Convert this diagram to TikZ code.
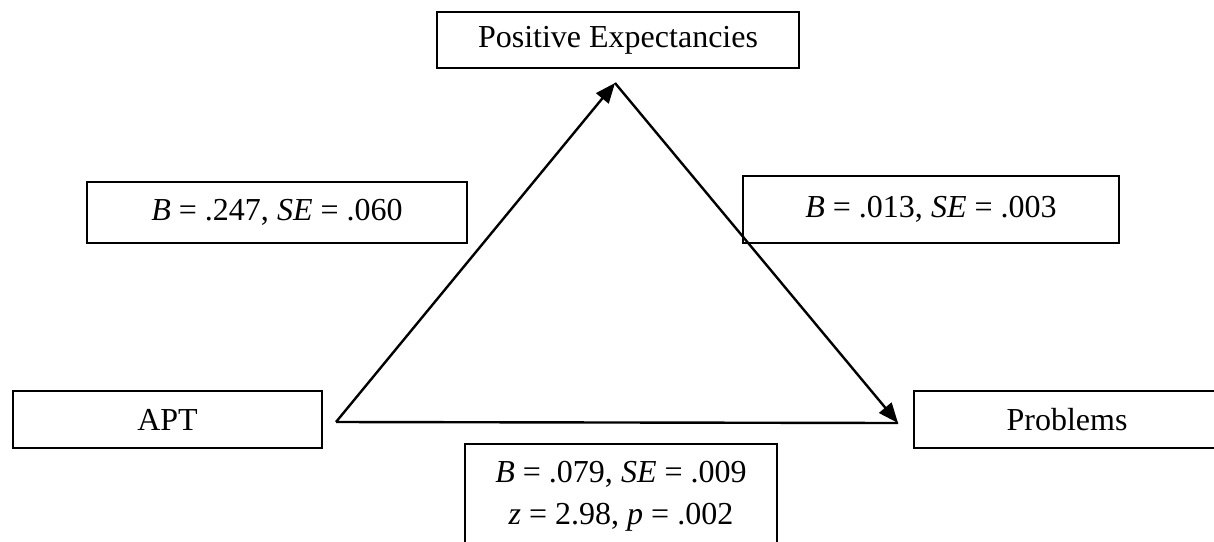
\documentclass[tikz,border=0pt]{standalone}
\usepackage{fontspec}
\setmainfont{Liberation Serif}
\usetikzlibrary{arrows.meta,positioning}
\tikzset{
  varbox/.style={rectangle, draw=black, line width=1pt, align=center,
                 inner sep=0pt, font=\fontsize{16}{21}\selectfont},
  coefbox/.style={varbox},
  ar/.style={-{Triangle[length=10pt,width=8pt]}, line width=1.2pt},
  ln/.style={line width=1.2pt},
}
\begin{document}
\begin{tikzpicture}[x=0.5pt,y=-0.5pt]
\useasboundingbox (0,0) rectangle (1214,541);
% variables
\node[varbox, minimum width=181pt, minimum height=28pt] (pe) at (618,40) {Positive Expectancies};
\node[varbox, minimum width=154.5pt, minimum height=28.5pt] (apt) at (167.5,419.5) {APT};
\node[varbox, minimum width=153pt, minimum height=28.5pt] (prob) at (1067,419.5) {Problems};
% path coefficients
\node[coefbox, minimum width=190pt, minimum height=30.5pt] (ca) at (277,212.5) {\textit{B} = .247, \textit{SE} = .060};
\node[coefbox, minimum width=188pt, minimum height=33.5pt] (cb) at (931,209.5) {\textit{B} = .013, \textit{SE} = .003};
\node[coefbox, minimum width=156pt, minimum height=52pt] (cab) at (621,496)
  {\textit{B} = .079, \textit{SE} = .009\\\textit{z} = 2.98, \textit{p} = .002};
% triangle
\coordinate (left) at (336,422);
\coordinate (apex) at (615,83);
\coordinate (tip) at (898,423);
\draw[ar] (left) -- (apex);
\draw[ar] (apex) -- (tip);
\draw[ln] (left) -- (tip);
\end{tikzpicture}
\end{document}
